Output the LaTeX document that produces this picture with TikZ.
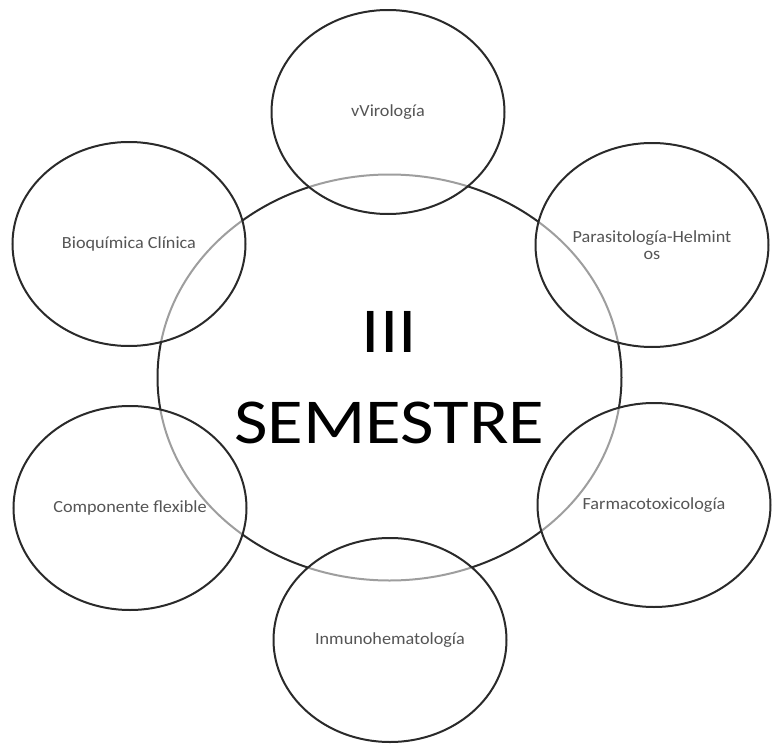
\documentclass[tikz,border=0pt]{standalone}
\usepackage{fontspec}
\setmainfont{Carlito}
\newfontfamily\widefont[FakeStretch=1.14]{Carlito}
\newfontfamily\labelfont[FakeStretch=1.07]{Carlito}
\usepackage{tikz}
\usetikzlibrary{shapes.geometric,positioning}
\definecolor{ringcol}{HTML}{2A2A2A}
\definecolor{labelcol}{HTML}{555555}

\begin{document}
\begin{tikzpicture}[x=1pt,y=-1pt]
  \tikzset{hub/.style = {shape=ellipse,draw=ringcol,line width=2pt,minimum width=464pt,minimum height=406pt,inner sep=0pt,align=center}}
  \tikzset{course/.style = {shape=ellipse,draw=ringcol,line width=2pt,fill=white,fill opacity=0.55,text opacity=1,minimum width=233pt,minimum height=204pt,inner sep=0pt,text=labelcol,align=center}}
  \tikzset{small/.style = {font=\labelfont\fontsize{17}{17}\selectfont}}
  \tikzset{big/.style = {font=\widefont\fontsize{64}{91}\selectfont}}
  \useasboundingbox (0,0) rectangle (772,744);

	\node[hub,big] (S) at (389.5,377.5) {III\\SEMESTRE};

	\node[course,small] (V) at (388,112) {vVirología};
	\node[course,small] (B) at (129,244) {Bioquímica Clínica};
	\node[course,small] (P) at (652,245) {Parasitología-Helmint\\os};
	\node[course,small] (C) at (130,508) {Componente flexible};
	\node[course,small] (F) at (654,505) {Farmacotoxicología};
	\node[course,small] (I) at (390,640) {Inmunohematología};

\end{tikzpicture}
\end{document}
